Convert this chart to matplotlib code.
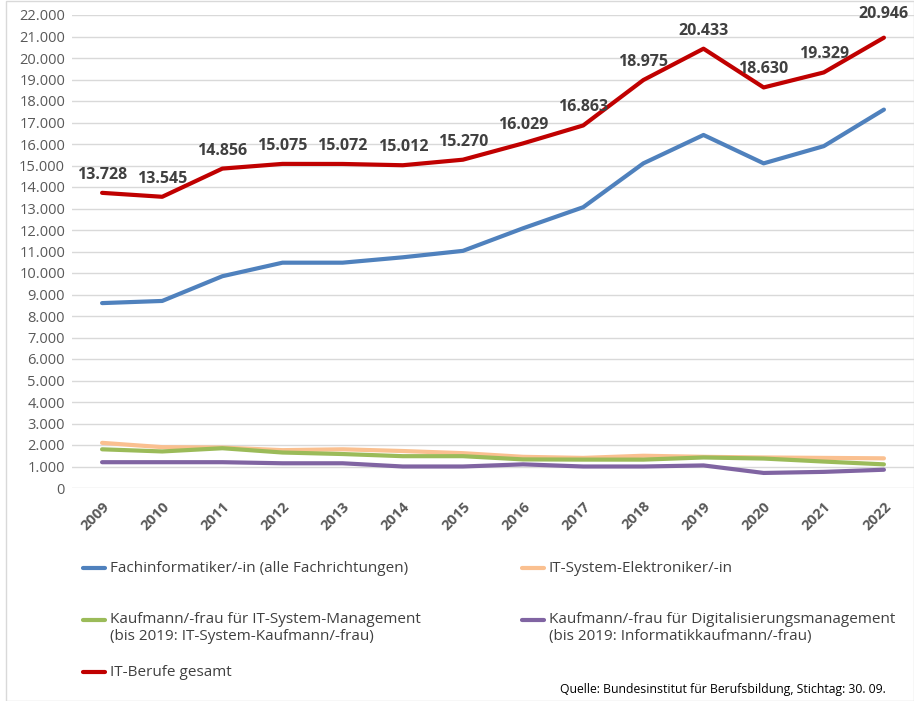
import matplotlib
matplotlib.use("Agg")
import matplotlib.pyplot as plt
from matplotlib.lines import Line2D
from matplotlib.ticker import FuncFormatter, MultipleLocator

years = ["2009", "2010", "2011", "2012", "2013", "2014", "2015", "2016",
         "2017", "2018", "2019", "2020", "2021", "2022"]
fachinformatiker = [8600, 8700, 9850, 10480, 10480, 10730, 11030, 12080,
                    13060, 15100, 16420, 15100, 15900, 17600]
it_elektroniker = [2100, 1900, 1880, 1760, 1800, 1720, 1620, 1450,
                   1400, 1500, 1450, 1420, 1400, 1380]
it_kaufmann = [1800, 1700, 1850, 1650, 1580, 1480, 1480, 1330,
               1320, 1320, 1420, 1370, 1230, 1100]
digital_kaufmann = [1200, 1200, 1200, 1150, 1150, 1000, 1000, 1100,
                    1000, 1000, 1050, 700, 750, 850]
gesamt = [13728, 13545, 14856, 15075, 15072, 15012, 15270, 16029,
          16863, 18975, 20433, 18630, 19329, 20946]

series_names = [
    "Fachinformatiker/-in (alle Fachrichtungen)",
    "IT-System-Elektroniker/-in",
    "Kaufmann/-frau für IT-System-Management\n(bis 2019: IT-System-Kaufmann/-frau)",
    "Kaufmann/-frau für Digitalisierungsmanagement\n(bis 2019: Informatikkaufmann/-frau)",
    "IT-Berufe gesamt",
]
colors = ["#4F81BD", "#FAC090", "#9BBB59", "#8064A2", "#C00000"]

plt.rcParams['font.family'] = ['Open Sans', 'DejaVu Sans']

W, H = 914, 701
fig = plt.figure(figsize=(W / 100, H / 100), dpi=100)
ax = fig.add_axes([72 / W, (H - 488) / H, (914 - 72) / W, (488 - 15) / H])

x = list(range(len(years)))
data = [fachinformatiker, it_elektroniker, it_kaufmann, digital_kaufmann, gesamt]
for vals, c in zip(data, colors):
    ax.plot(x, vals, color=c, lw=3.0, solid_joinstyle='round', solid_capstyle='round', zorder=3)

for xi, v in zip(x, gesamt):
    off = 13 if xi != len(x) - 1 else 17
    ax.annotate(f"{v:,}".replace(",", "."), (xi, v), xytext=(0, off),
                textcoords="offset points", ha="center", va="center",
                fontsize=11.5, fontweight="bold", color="#404040", zorder=4)

ax.set_xlim(-0.5, len(x) - 0.5)
ax.set_ylim(0, 22000)
ax.yaxis.set_major_locator(MultipleLocator(1000))
ax.yaxis.set_major_formatter(FuncFormatter(lambda v, p: f"{int(v):,}".replace(",", ".")))
ax.grid(axis='y', color="#D9D9D9", lw=1)
ax.set_axisbelow(True)
for s in ax.spines.values():
    s.set_visible(False)
ax.tick_params(axis='both', length=0, colors="#595959", labelsize=10.5)
ax.set_xticks(x)
ax.set_xticklabels(years, rotation=45, ha="right", rotation_mode="anchor",
                   fontweight="bold", fontsize=10.5)
ax.tick_params(axis='x', pad=8)
ax.tick_params(axis='y', pad=5)

# Legend (manual placement)
leg_items = [
    (83, 568, 0),
    (522, 568, 1),
    (83, 628, 2),
    (522, 628, 3),
    (83, 672, 4),
]
for lx, ly, i in leg_items:
    yf = (H - ly) / H
    if "\n" in series_names[i]:
        yline = (H - (ly - 8)) / H
    else:
        yline = yf
    fig.add_artist(Line2D([lx / W, (lx + 22) / W], [yline, yline], color=colors[i],
                          lw=3.0, solid_capstyle='round', transform=fig.transFigure))
    fig.text((lx + 27) / W, yf, series_names[i], ha="left", va="center",
             fontsize=11, color="#404040", linespacing=1.25)

fig.text(886 / W, (H - 690) / H, "Quelle: Bundesinstitut für Berufsbildung, Stichtag: 30. 09.",
         ha="right", va="center", fontsize=8.8, color="#000000")

fig.add_artist(plt.Rectangle((6 / W, 0), 1 - 6 / W, 1 - 1 / H, fill=False,
                             edgecolor="#D9D9D9", lw=1, transform=fig.transFigure))

fig.savefig("out.png", dpi=100)
